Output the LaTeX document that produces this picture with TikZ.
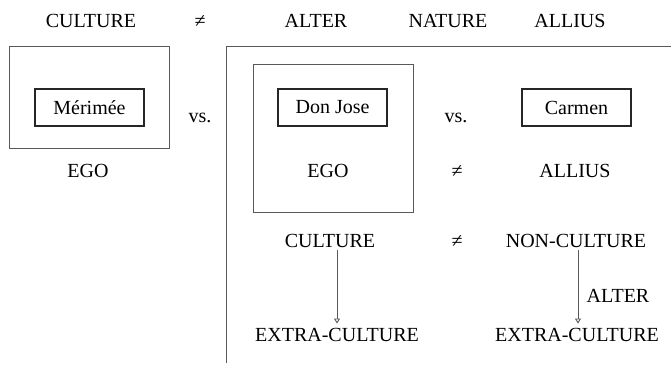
\documentclass[tikz,border=0pt]{standalone}
\usepackage{fontspec}
\setmainfont{Liberation Serif}
\usetikzlibrary{arrows.meta}
\begin{document}
\begin{tikzpicture}[x=1pt,y=-1pt,
  lbl/.style={anchor=base,inner sep=3pt,font=\fontsize{20}{24}\selectfont},
  namebox/.style={draw=black!85,line width=1.3pt,minimum width=109pt,minimum height=37pt,inner sep=0pt,font=\fontsize{20}{24}\selectfont},
  frame/.style={draw=black!65,line width=1pt},
  arr/.style={draw=black!65,line width=0.9pt,-{Triangle[open,length=5pt,width=6pt]}}]
\useasboundingbox (0,0) rectangle (671,366);
% top row
\node[lbl] (tcult) at (91,28) {CULTURE};
\node[lbl] (tneq) at (200,28) {≠};
\node[lbl] (talter) at (316,28) {ALTER};
\node[lbl] (tnat) at (448,28) {NATURE};
\node[lbl] (tall) at (570,28) {ALLIUS};
% frames
\draw[frame] (9,47) rectangle (169,149);
\draw[frame] (253,65) rectangle (413,212);
\coordinate (lbot) at (226,363);
\coordinate (lcorner) at (226,47);
\coordinate (lright) at (671,47);
\draw[frame] (lbot) -- (lcorner) -- (lright);
% name boxes
\node[namebox] (mer) at (89.5,107.5) {Mérimée};
\node[namebox] (don) at (332.5,107.5) {Don Jose};
\node[namebox] (car) at (576.5,107.5) {Carmen};
\node[lbl] (vs1) at (200,123) {vs.};
\node[lbl] (vs2) at (456,123) {vs.};
% ego row
\node[lbl] (ego1) at (88,177) {EGO};
\node[lbl] (ego2) at (328,177) {EGO};
\node[lbl] (neq2) at (457,177) {≠};
\node[lbl] (all2) at (575,177) {ALLIUS};
% culture row
\node[lbl] (cult) at (330,247) {CULTURE};
\node[lbl] (neq3) at (457,247) {≠};
\node[lbl] (noncult) at (576,247) {NON-CULTURE};
% bottom row
\node[lbl] (ext1) at (337,341) {EXTRA-CULTURE};
\node[lbl] (ext2) at (577,341) {EXTRA-CULTURE};
\node[lbl] (alter2) at (618,302) {ALTER};
% arrows
\draw[arr] (ext1.north |- cult.south) -- ([yshift=1pt]ext1.north);
\draw[arr] ([xshift=1pt]ext2.north |- noncult.south) -- ([xshift=1pt,yshift=1pt]ext2.north);
\end{tikzpicture}
\end{document}
